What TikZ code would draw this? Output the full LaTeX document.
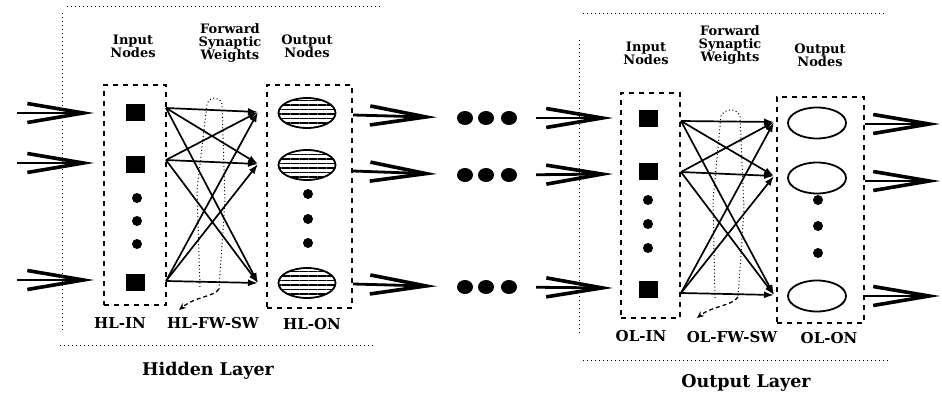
\documentclass[tikz,border=0pt]{standalone}
\usepackage{fontspec}
\setmainfont{DejaVu Serif}
\usetikzlibrary{arrows.meta,shapes.geometric,patterns.meta}
\begin{document}
\begin{tikzpicture}[x=1pt,y=-1pt,
  bigarrow/.style={line width=2.8pt,-{Straight Barb[length=56pt,width=19pt,line width=3.6pt]}},
  wline/.style={line width=1.7pt,-{Latex[length=10pt,width=7pt]}},
  dbox/.style={draw,line width=1.8pt,dash pattern=on 5pt off 5pt,inner sep=0pt},
  frame/.style={line width=1pt,dash pattern=on 1pt off 3pt},
  sq/.style={fill,inner sep=0pt,minimum width=19pt,minimum height=17pt},
  dot/.style={circle,fill,inner sep=0pt,minimum size=10pt},
  bigdot/.style={ellipse,fill,inner sep=0pt,minimum width=16pt,minimum height=14pt},
  hnode/.style={ellipse,draw,line width=1.8pt,minimum width=57pt,minimum height=30pt,inner sep=0pt,
    pattern={Lines[angle=0,distance=4.5pt,line width=1.5pt]}},
  onode/.style={ellipse,draw,line width=1.8pt,minimum width=58pt,minimum height=31pt,inner sep=0pt},
  head/.style={font=\bfseries\fontsize{13}{13}\selectfont,align=center,inner sep=0pt},
  tag/.style={font=\bfseries\fontsize{15}{16}\selectfont,inner sep=0pt},
  title/.style={font=\bfseries\fontsize{17.5}{19}\selectfont,inner sep=0pt},
  loopline/.style={line width=1pt,dash pattern=on 1pt off 2.5pt},
  back/.style={line width=1.3pt,dash pattern=on 4pt off 3pt,-{Stealth[length=7pt,width=6pt]}}
]
\useasboundingbox (0,0) rectangle (942,393);

% ---------------- hidden layer ----------------
\draw[frame] (67,7) -- (380,7);
\draw[frame] (62,13) -- (62,330);
\draw[frame] (60,345) -- (375,345);

\node[dbox,minimum width=62pt,minimum height=220pt] (hlin) at (135,195) {};
\node[dbox,minimum width=85pt,minimum height=223pt] (hlon) at (309.5,196.5) {};

\node[sq] (hi1) at (135,113) {};
\node[sq] (hi2) at (135,164) {};
\node[sq] (hi3) at (135,282) {};
\node[dot] (hd1) at (137,198) {};
\node[dot] (hd2) at (137,221) {};
\node[dot] (hd3) at (137,244) {};

\node[hnode] (ho1) at (307,113) {};
\node[hnode] (ho2) at (307,165) {};
\node[hnode] (ho3) at (307,283) {};
\node[dot] (hod1) at (308,194) {};
\node[dot] (hod2) at (308,219) {};
\node[dot] (hod3) at (308,243) {};

% forward synaptic weights
\coordinate (hs1) at (166,108);
\coordinate (hs2) at (166,160);
\coordinate (hs3) at (166,281);
\coordinate (ht1) at (258,112);
\coordinate (ht2) at (258,164);
\coordinate (ht3) at (258,283);
\foreach \s in {1,2,3}
  \foreach \t in {1,2,3}
    \draw[wline] (hs\s) -- (ht\t);

% weight-set marker loop
\draw[loopline] (200,287) -- (197,190) -- (207,104) .. controls (210,96) and (220,96) .. (222,104) -- (225,200) -- (219,289);
\coordinate (hlp) at (219,289);
\coordinate (hla) at (179,310);
\draw[back] (hlp) .. controls (214,297) and (196,296) .. (hla);

% inputs
\coordinate (hx1) at (17,113);
\coordinate (hx2) at (17,163);
\coordinate (hx3) at (17,280);
\foreach \i in {1,2,3}
  \draw[bigarrow,shorten >=9pt] (hx\i) -- (hlin.west |- hx\i);

% labels
\node[head] (hlh1) at (133,46.5) {Input\\Nodes};
\node[head] (hlh2) at (230,43) {Forward\\Synaptic\\Weights};
\node[head] (hlh3) at (307,46.5) {Output\\Nodes};
\node[tag] (hlt1) at (120,323) {HL-IN};
\node[tag] (hlt2) at (213,323) {HL-FW-SW};
\node[tag] (hlt3) at (312,324) {HL-ON};
\node[title] (hltitle) at (208,371) {Hidden Layer};

% ---------------- links between layers ----------------
\coordinate (ma1) at (353,115);
\coordinate (ma2) at (353,171);
\coordinate (ma3) at (353,284);
\node[bigdot] (md11) at (465,118) {};
\node[bigdot] (md12) at (486,118) {};
\node[bigdot] (md13) at (509,118) {};
\node[bigdot] (md21) at (465,175) {};
\node[bigdot] (md22) at (486,175) {};
\node[bigdot] (md23) at (509,175) {};
\node[bigdot] (md31) at (465,287) {};
\node[bigdot] (md32) at (486,287) {};
\node[bigdot] (md33) at (509,287) {};

% ---------------- output layer ----------------
\draw[frame] (583,14) -- (884,14);
\draw[frame] (579,40) -- (579,336);
\draw[frame] (583,360) -- (891,360);

\node[dbox,minimum width=59pt,minimum height=225pt] (olin) at (650.5,205.5) {};
\node[dbox,minimum width=87pt,minimum height=226pt] (olon) at (820.5,210) {};

\node[sq] (oi1) at (648,119) {};
\node[sq] (oi2) at (648,171) {};
\node[sq] (oi3) at (648,289) {};
\node[dot] (od1) at (648,200) {};
\node[dot] (od2) at (648,224) {};
\node[dot] (od3) at (648,248) {};

\node[onode] (oo1) at (817,123) {};
\node[onode] (oo2) at (817,178) {};
\node[onode] (oo3) at (817,296) {};
\node[dot] (ood1) at (818,200) {};
\node[dot] (ood2) at (818,226) {};
\node[dot] (ood3) at (818,253) {};

\coordinate (os1) at (681,121);
\coordinate (os2) at (681,172);
\coordinate (os3) at (681,293);
\coordinate (ot1) at (774,122);
\coordinate (ot2) at (774,176);
\coordinate (ot3) at (774,295);
\foreach \s in {1,2,3}
  \foreach \t in {1,2,3}
    \draw[wline] (os\s) -- (ot\t);

\draw[loopline] (715,298) -- (713,200) -- (721,116) .. controls (725,108) and (737,108) .. (740,116) -- (744,210) -- (738,297);
\coordinate (olp) at (738,297);
\coordinate (ola) at (697,318);
\draw[back] (olp) .. controls (732,306) and (712,306) .. (ola);

% arrows between layers
\coordinate (mb1) at (613,118);
\coordinate (mb2) at (613,174);
\coordinate (mb3) at (613,288);
\foreach \i in {1,2,3} {
  \draw[bigarrow,shorten >=20pt] (ma\i) -- (md\i1);
  \draw[bigarrow,shorten <=19pt] (md\i3) -- (mb\i);
}

% outputs
\coordinate (ox1) at (940,124);
\coordinate (ox2) at (940,181);
\coordinate (ox3) at (940,296);
\foreach \i in {1,2,3}
  \draw[bigarrow] (olon.east |- ox\i) -- (ox\i);

\node[head] (olh1) at (646,53.5) {Input\\Nodes};
\node[head] (olh2) at (730,45) {Forward\\Synaptic\\Weights};
\node[head] (olh3) at (820,55) {Output\\Nodes};
\node[tag] (olt1) at (641,336) {OL-IN};
\node[tag] (olt2) at (732,337) {OL-FW-SW};
\node[tag] (olt3) at (829,338) {OL-ON};
\node[title] (oltitle) at (746,383) {Output Layer};
\end{tikzpicture}
\end{document}
